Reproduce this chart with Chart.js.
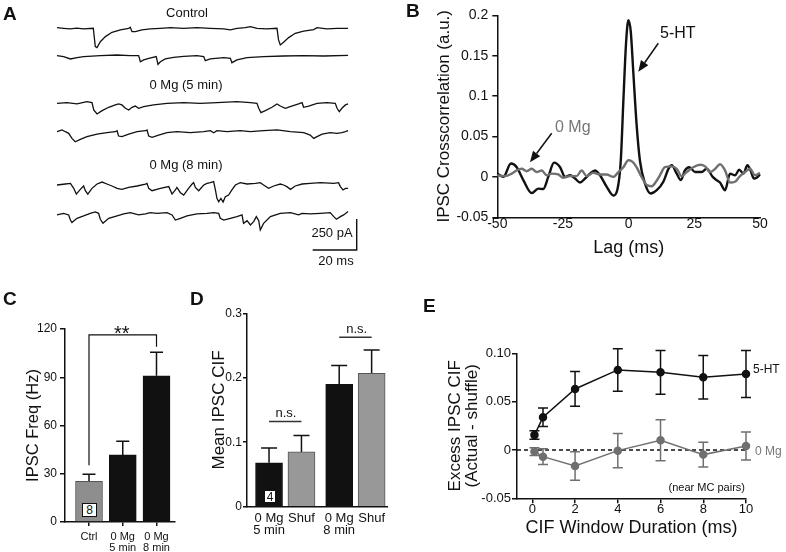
<!DOCTYPE html>
<html>
<head>
<meta charset="utf-8">
<title>IPSC figure</title>
<script src="https://cdn.jsdelivr.net/npm/chart.js@4.4.1/dist/chart.umd.min.js"></script>
<style>
  html, body { margin:0; padding:0; background:#fff; }
  #fig { position:relative; width:786px; height:552px; overflow:hidden; background:#fff;
         font-family:'Liberation Sans', Arial, Helvetica, sans-serif; color:#111; }
  #fig canvas { position:absolute; }
  .t { position:absolute; white-space:nowrap; line-height:1; }
  .nbox { position:absolute; box-sizing:border-box; border:1.2px solid #111; background:#fff;
          font-size:12px; display:flex; align-items:center; justify-content:center; line-height:1; }
</style>
</head>
<body>
<div id="fig">
  <canvas id="cA" width="380" height="270" style="left:0;top:0"></canvas>
  <canvas id="cB" width="406" height="270" style="left:380px;top:0"></canvas>
  <canvas id="cC" width="190" height="272" style="left:0;top:280px"></canvas>
  <canvas id="cD" width="200" height="272" style="left:190px;top:280px"></canvas>
  <canvas id="cE" width="396" height="272" style="left:390px;top:280px"></canvas>
</div>
<script>
// ================= DATA =================
// Panel A: example traces, [time (ms), current (pA) relative to baseline]
const traceControl1 = [[0,5],[3,0],[6,-5],[9,2],[12,-5],[16.5,0],[17.4,-148],[18.2,-156],[19.7,-108],[22,-67],[25,-32],[28.8,-13],[32.6,0],[33.3,8],[34.1,-27],[35.6,-27],[38.6,-13],[42.4,-5],[47,0],[51.5,5],[57.6,0],[63.6,5],[69.7,0],[75.8,-5],[78.8,-13],[81.8,0],[85.6,5],[87.9,13],[90.9,0],[95.4,-5],[100,0],[100.7,-94],[101.5,-134],[103,-113],[105.3,-75],[108.3,-40],[112.1,-22],[116.7,-11],[118.2,5],[122.7,-5],[127.3,0],[132.3,0]];
const traceControl2 = [[0,3],[3,-5],[6.1,-24],[9.1,-13],[12.1,-5],[19.7,3],[27.3,8],[33.3,3],[37.1,3],[37.9,-46],[39.4,-32],[41.7,-19],[45.1,-5],[45.9,-67],[47,-46],[49.2,-24],[53,-11],[57.6,-3],[63.6,3],[66.7,-5],[67.4,-38],[69.7,-24],[75.8,-13],[78.8,-19],[79.5,-54],[81.8,-32],[86.4,-13],[93.9,-5],[103,0],[112.1,3],[121.2,0],[132.3,5]];
const traceMg5a = [[0,0],[4.5,5],[9.1,-5],[13.6,13],[15.9,5],[16.7,-54],[18.2,-86],[20.5,-59],[23.5,-32],[26.5,-13],[28,-5],[29.5,-13],[31.1,-40],[32.6,-54],[34.1,-32],[35.6,-22],[37.1,-40],[39.4,-27],[43.9,-13],[50,0],[57.6,5],[65.1,0],[72.7,5],[81.8,13],[87.9,5],[90.9,0],[91.7,-40],[92.7,-75],[94.7,-59],[97.7,-32],[100,-5],[101.5,-22],[103.8,-40],[106,-27],[109.8,-5],[111.4,5],[112.1,-32],[114.4,-22],[118.2,0],[122.7,5],[126.5,0],[127.3,-40],[128.3,-67],[129.5,-40],[131.1,-13],[132.3,-5]];
const traceMg5b = [[0,8],[2.3,22],[3.8,8],[5.3,-5],[6.8,-46],[8.3,-73],[10.6,-54],[13.6,-32],[18.2,-11],[22.7,0],[26.5,8],[27.3,16],[28,-27],[29.5,-32],[32.6,-11],[36.4,8],[40.2,16],[40.9,22],[41.7,-27],[43.2,-38],[46.2,-19],[50,0],[54.5,8],[60.6,0],[66.7,8],[69.7,16],[71.2,0],[72.7,16],[77.3,8],[83.3,16],[87.9,8],[93.9,16],[100,22],[106.1,8],[112.1,0],[115.1,-19],[116.7,-46],[118.2,-32],[120.5,-11],[124.2,0],[127.3,-5],[129.5,0],[131.1,8],[132.3,16]];
const traceMg8a = [[0,0],[3.8,8],[6.1,13],[7.6,-27],[8.8,-73],[10.6,-35],[12.1,-8],[12.9,-46],[14,-73],[15.9,-27],[18.2,8],[20.5,24],[22.7,8],[25,-8],[27.3,-27],[29.5,-35],[32.6,-19],[36.4,-8],[40.2,8],[40.9,13],[41.7,-27],[43.2,-46],[47,-27],[50.8,-13],[52.3,-73],[53.8,-40],[54.5,-19],[56.1,-62],[57.6,-81],[59.8,-27],[61.4,8],[62.1,19],[62.9,-19],[64.4,-46],[66.7,0],[68.2,13],[69.7,19],[71.2,27],[72,-40],[72.7,-108],[73.5,-135],[74.5,-108],[75.5,-137],[76.5,-94],[78,-81],[79.5,-40],[81.1,0],[83.3,19],[86.4,8],[90.2,13],[92.4,19],[93.9,0],[96.2,-27],[98.5,-8],[101.5,8],[103,0],[104.5,-13],[106.1,-35],[108.3,-8],[111.4,8],[115.1,13],[119.7,19],[125.8,13],[128,19],[128.8,-13],[130,-40],[131.1,-27],[132.3,-27]];
const traceMg8b = [[0,-5],[3,8],[5.3,-5],[6.1,-46],[6.8,-67],[9.1,-32],[12.1,-13],[15.1,8],[17.4,19],[18.9,8],[19.7,-40],[20.9,-73],[23.5,-32],[27.3,-13],[30.3,3],[33.3,13],[37.1,-5],[40.2,3],[42.4,13],[45.5,8],[50,13],[52.3,-5],[53.8,-46],[56.1,-32],[59.1,-13],[63.6,3],[68.2,8],[71.2,13],[73.5,8],[74.2,-32],[75.8,-46],[78.8,-32],[81.8,-19],[84.1,-5],[84.8,-73],[86.4,-51],[87.9,-86],[89.4,-59],[90.6,-19],[91.7,-51],[92.4,-126],[93.9,-73],[97,-19],[101.5,8],[106.1,13],[109.8,-5],[111.4,8],[115.1,3],[119.7,8],[124.2,13],[125.8,-19],[127,-40],[128.8,-19],[130.3,-5],[132.3,22]];
const traceLabels = ['Control', '0 Mg (5 min)', '0 Mg (8 min)'];
const scaleBarPA = 250;
const scaleBarMS = 20;

// Panel B: IPSC crosscorrelation vs lag
const lag5HT   = [-50,-47.7,-44.8,-42.6,-40.1,-36.9,-34.4,-32.5,-30.6,-28.4,-26.1,-24.2,-22.3,-20.4,-18.5,-16.6,-14.7,-12.8,-10.9,-8.4,-5.8,-4.3,-3.0,-2.0,-1.0,-0.1,0.8,1.8,3.0,4.3,6.2,8.4,10.7,13.2,15.2,16.4,18.3,19.9,21.4,23.1,25.3,27.8,29.7,32,33.5,34.8,36.7,38.6,40.5,42.1,43.7,45.2,46.4,47.7,48.7,50];
const xcorr5HT = [0.004,0,0.0165,0.012,-0.004,-0.02,-0.0145,-0.015,0,0.0177,0.012,0,0.002,-0.002,-0.007,-0.002,0.004,0.008,0.002,-0.012,-0.023,-0.016,0.02,0.095,0.165,0.194,0.18,0.128,0.066,0.02,-0.008,-0.0206,-0.0165,-0.006,0.0103,0.0144,0.004,-0.004,0.008,0.012,0.006,0.006,0.010,0,-0.004,-0.007,-0.0165,0.004,0.002,0.009,0.004,0.0144,0.008,-0.002,-0.001,0.003];
const lag0Mg   = [-50,-47.1,-44.5,-42.6,-40.7,-38.8,-36.9,-35,-33.1,-31.2,-29.3,-26.8,-24.9,-22.3,-19.8,-17.9,-16,-13.5,-10.9,-8.4,-5.8,-3.9,-2.0,-0.1,1.5,3,4.9,6.9,8.8,10.4,11.9,13.8,16.4,18.3,20.2,22.1,24.6,27.2,29.1,31,32.9,34.8,36.7,38.6,40.5,42.4,44.3,46.2,48.1,50];
const xcorr0Mg = [0.002,0.001,0.004,0.008,0.010,0.007,0.010,0.006,0.008,0.002,0.004,0.003,-0.001,0.001,0.001,0.008,0.001,0.005,0.003,0.003,0,0.006,0.012,0.0206,0.0186,0.012,0,-0.010,-0.0115,-0.006,0.002,0.012,0.013,0.010,0.001,0.006,0.012,0.015,0.013,0.006,0.010,0.0157,0.008,-0.007,-0.006,0.001,0.006,0.010,0.002,0.005];
const lagTicks = [-50,-25,0,25,50];
const xcorrTicks = [-0.05,0,0.05,0.1,0.15,0.2];
const xcorrTickLabels = ['-0.05','0','0.05','0.1','0.15','0.2'];

// Panel C: IPSC frequency
const freqCategories = ['Ctrl', ['0 Mg','5 min'], ['0 Mg','8 min']];
const freqMean = [25.3, 41.7, 90.9];
const freqSEM  = [4.4, 8.5, 14.6];
const freqTicks = [0,30,60,90,120];
const freqN = 8;
const freqSig = '**';

// Panel D: mean IPSC CIF, actual vs shuffled
const cifConditions = ['5 min','8 min'];
const cifActual     = [0.068, 0.190];
const cifActualSEM  = [0.023, 0.029];
const cifShuffle    = [0.085, 0.207];
const cifShuffleSEM = [0.0255, 0.036];
const cifNsLevel    = [0.132, 0.263];
const cifTicks = [0,0.1,0.2,0.3];
const cifN = 4;

// Panel E: excess IPSC CIF vs window duration
const windowMs = [0.1,0.5,2,4,6,8,10];
const excess5HT    = [0.0155,0.0338,0.0631,0.0828,0.0803,0.0752,0.0786];
const excess5HTSEM = [0.0043,0.0095,0.018,0.022,0.0226,0.0224,0.0242];
const excess0Mg    = [-0.0017,-0.0069,-0.0166,-0.0007,0.010,-0.0048,0.0041];
const excess0MgSEM = [0.004,0.0081,0.0147,0.0178,0.0212,0.0128,0.0145];
const windowTicks = [0,2,4,6,8,10];
const excessTicks = [-0.05,0,0.05,0.10];
const excessTickLabels = ['-0.05','0','0.05','0.10'];

// ================= STYLE / SETUP =================
const INK = '#111';
const GREY_LINE = '#707070';
const GREY_BAR = '#8e8e8e';
const GREY_EDGE = '#555';
const NARROW = "'Liberation Sans Narrow', 'Arial Narrow', 'Liberation Sans', Arial, sans-serif";

Chart.defaults.font.family = "'Liberation Sans', Arial, Helvetica, sans-serif";
Chart.defaults.color = INK;
Chart.defaults.animation = false;
Chart.defaults.events = [];
Chart.defaults.plugins.legend.display = false;
Chart.defaults.plugins.tooltip.enabled = false;

function setTicks(list) { return s => { s.ticks = list.map(v => ({ value: v })); }; }

// error bars drawn from the library's scales
const errorBarPlugin = {
  id: 'errorBars',
  beforeDatasetsDraw(chart) {
    const ctx = chart.ctx, ys = chart.scales.y;
    chart.data.datasets.forEach((ds, di) => {
      if (!ds.errors) return;
      const meta = chart.getDatasetMeta(di);
      ctx.save();
      ctx.strokeStyle = ds.errorColor || INK;
      ctx.lineWidth = ds.errorWidth || 1.5;
      meta.data.forEach((el, i) => {
        const v = meta.controller.getParsed(i).y, e = ds.errors[i];
        const x = el.x, cap = ds.errorCap || 5;
        const yHi = ys.getPixelForValue(v + e);
        const yLo = ys.getPixelForValue(ds.upOnly ? v : v - e);
        ctx.beginPath();
        ctx.moveTo(x, yLo); ctx.lineTo(x, yHi);
        ctx.moveTo(x - cap, yHi); ctx.lineTo(x + cap, yHi);
        if (!ds.upOnly) { ctx.moveTo(x - cap, yLo); ctx.lineTo(x + cap, yLo); }
        ctx.stroke();
      });
      ctx.restore();
    });
  }
};

// ================= PANEL A =================
const aTraces = [traceControl1, traceControl2, traceMg5a, traceMg5b, traceMg8a, traceMg8b];
const A_MS_PER_PX = scaleBarMS / 44, A_PA_PER_PX = scaleBarPA / 31;
const A_T0_PX = 57, A_W = 380, A_H = 270;
const A_ROWS_PX = [28.3, 56, 103.3, 132.7, 185, 214.3];
const A_BAR_CORNER = [356.7, 250];
const scaleBarPlugin = {
  id: 'scaleBar',
  afterDatasetsDraw(chart) {
    const { x: xs, y: ys } = chart.scales, ctx = chart.ctx;
    const tEnd = (A_BAR_CORNER[0] - A_T0_PX) * A_MS_PER_PX;
    const iBot = -A_BAR_CORNER[1] * A_PA_PER_PX;
    const x0 = xs.getPixelForValue(tEnd - scaleBarMS), x1 = xs.getPixelForValue(tEnd);
    const y0 = ys.getPixelForValue(iBot), y1 = ys.getPixelForValue(iBot + scaleBarPA);
    ctx.save(); ctx.strokeStyle = INK; ctx.lineWidth = 1.4;
    ctx.beginPath(); ctx.moveTo(x0, y0); ctx.lineTo(x1, y0); ctx.lineTo(x1, y1); ctx.stroke();
    ctx.restore();
  }
};
new Chart(document.getElementById('cA'), {
  type: 'scatter',
  data: { datasets: aTraces.map((tr, k) => ({
    data: tr.map(p => ({ x: p[0], y: p[1] - A_ROWS_PX[k] * A_PA_PER_PX })),
    showLine: true, pointRadius: 0, borderColor: INK, borderWidth: 1.3, tension: 0, clip: false
  })) },
  options: {
    responsive: false, layout: { padding: 0 },
    scales: {
      x: { type: 'linear', display: false, min: -A_T0_PX * A_MS_PER_PX, max: (A_W - A_T0_PX) * A_MS_PER_PX },
      y: { type: 'linear', display: false, min: -A_H * A_PA_PER_PX, max: 0 }
    }
  },
  plugins: [scaleBarPlugin]
});

// ================= PANEL B =================
function drawArrow(ctx, x0, y0, x1, y1) {
  const ang = Math.atan2(y1 - y0, x1 - x0), L = 11, W = 4.5;
  const bx = x1 - L * Math.cos(ang), by = y1 - L * Math.sin(ang);
  ctx.beginPath(); ctx.moveTo(x0, y0); ctx.lineTo(bx, by); ctx.stroke();
  ctx.beginPath(); ctx.moveTo(x1, y1);
  ctx.lineTo(bx + W * Math.sin(ang), by - W * Math.cos(ang));
  ctx.lineTo(bx - W * Math.sin(ang), by + W * Math.cos(ang));
  ctx.closePath(); ctx.fill();
}
const arrowPlugin = {
  id: 'arrows',
  afterDatasetsDraw(chart) {
    const ctx = chart.ctx;
    ctx.save(); ctx.strokeStyle = INK; ctx.fillStyle = INK; ctx.lineWidth = 1.5;
    drawArrow(ctx, 278.3, 43.3, 258.3, 71.7);
    drawArrow(ctx, 171.7, 133.3, 150, 162.3);
    ctx.restore();
  }
};
new Chart(document.getElementById('cB'), {
  type: 'line',
  data: { datasets: [
    { data: lag0Mg.map((x, i) => ({ x, y: xcorr0Mg[i] })), borderColor: GREY_LINE, borderWidth: 2.4,
      pointRadius: 0, cubicInterpolationMode: 'monotone', clip: false },
    { data: lag5HT.map((x, i) => ({ x, y: xcorr5HT[i] })), borderColor: INK, borderWidth: 2.4,
      pointRadius: 0, cubicInterpolationMode: 'monotone', clip: false }
  ] },
  options: {
    responsive: false,
    layout: { padding: { left: 0, right: 26, top: 15.3, bottom: 0 } },
    scales: {
      x: { type: 'linear', min: -50, max: 50, afterBuildTicks: setTicks(lagTicks),
        ticks: { font: { size: 14, lineHeight: 1 }, padding: 0, maxRotation: 0, autoSkip: false },
        grid: { drawOnChartArea: false, drawTicks: false, color: INK },
        border: { display: true, color: INK, width: 1.5 },
        title: { display: true, text: 'Lag (ms)', font: { size: 18, lineHeight: 1 }, padding: { top: 0, bottom: 13 } },
        afterFit: s => { s.height = 52.7; } },
      y: { type: 'linear', min: -0.05, max: 0.2, afterBuildTicks: setTicks(xcorrTicks),
        ticks: { font: { size: 14 }, padding: 4, callback: v => xcorrTickLabels[xcorrTicks.indexOf(v)] },
        grid: { drawOnChartArea: false, tickLength: 5, color: INK, lineWidth: 1.5 },
        border: { display: true, color: INK, width: 1.5 },
        title: { display: true, text: 'IPSC Crosscorrelation (a.u.)', font: { size: 17, lineHeight: 1 }, padding: { top: 55.5, bottom: 0 } },
        afterFit: s => { s.width = 117.3; } }
    }
  },
  plugins: [arrowPlugin]
});

// ================= PANEL C =================
const bracketPlugin = {
  id: 'bracket',
  afterDatasetsDraw(chart) {
    const { x: xs, y: ys } = chart.scales, ctx = chart.ctx;
    const xL = xs.getPixelForValue(0), xR = xs.getPixelForValue(freqCategories.length - 1);
    const yTop = ys.getPixelForValue(116.3);
    ctx.save(); ctx.strokeStyle = INK; ctx.lineWidth = 1.2;
    ctx.beginPath();
    ctx.moveTo(xL, ys.getPixelForValue(35.3)); ctx.lineTo(xL, yTop);
    ctx.lineTo(xR, yTop); ctx.lineTo(xR, ys.getPixelForValue(109));
    ctx.stroke(); ctx.restore();
  }
};
new Chart(document.getElementById('cC'), {
  type: 'bar',
  data: { datasets: [{
    data: freqMean.map((v, i) => ({ x: i, y: v })),
    backgroundColor: [GREY_BAR, INK, INK], borderColor: [GREY_EDGE, INK, INK], borderWidth: 1,
    barThickness: 27, errors: freqSEM, upOnly: true, errorCap: 6.5, errorWidth: 1.5
  }] },
  options: {
    responsive: false,
    layout: { padding: { left: 0, right: 15, top: 49, bottom: 0 } },
    scales: {
      x: { type: 'linear', offset: false, min: -0.711, max: 2.548,
        afterBuildTicks: setTicks(freqCategories.map((c, i) => i)),
        ticks: { callback: v => freqCategories[v], font: { family: NARROW, size: 11, lineHeight: 1 }, padding: 5, maxRotation: 0, autoSkip: false },
        grid: { offset: false, drawOnChartArea: false, tickLength: 4, color: INK, lineWidth: 1.5 },
        border: { display: true, color: INK, width: 1.5 },
        afterFit: s => { s.height = 30; } },
      y: { type: 'linear', min: 0, max: 120, afterBuildTicks: setTicks(freqTicks),
        ticks: { font: { size: 12 }, padding: 3 },
        grid: { drawOnChartArea: false, tickLength: 5, color: INK, lineWidth: 1.5 },
        border: { display: true, color: INK, width: 1.5 },
        title: { display: true, text: 'IPSC Freq (Hz)', font: { size: 16.5, lineHeight: 1 }, padding: { top: 24.75, bottom: 0 } },
        afterFit: s => { s.width = 65; } }
    }
  },
  plugins: [errorBarPlugin, bracketPlugin]
});

// ================= PANEL D =================
const D_BAR_OFF = 0.231;
const cifTickPos = [];
const cifTickLabels = [];
cifConditions.forEach((c, g) => {
  cifTickPos.push(g - D_BAR_OFF, g + D_BAR_OFF);
  cifTickLabels.push(['0 Mg', c], 'Shuf');
});
const nsPlugin = {
  id: 'nsLines',
  afterDatasetsDraw(chart) {
    const { x: xs, y: ys } = chart.scales, ctx = chart.ctx;
    ctx.save(); ctx.strokeStyle = '#333'; ctx.lineWidth = 1.5;
    cifNsLevel.forEach((lv, g) => {
      const y = ys.getPixelForValue(lv);
      ctx.beginPath();
      ctx.moveTo(xs.getPixelForValue(g - D_BAR_OFF), y);
      ctx.lineTo(xs.getPixelForValue(g + D_BAR_OFF), y);
      ctx.stroke();
    });
    ctx.restore();
  }
};
new Chart(document.getElementById('cD'), {
  type: 'bar',
  data: { datasets: [
    { data: cifActual.map((v, g) => ({ x: g - D_BAR_OFF, y: v })), backgroundColor: INK, borderColor: INK,
      borderWidth: 1, barThickness: 27, grouped: false, errors: cifActualSEM, upOnly: true, errorCap: 8 },
    { data: cifShuffle.map((v, g) => ({ x: g + D_BAR_OFF, y: v })), backgroundColor: '#989898', borderColor: GREY_EDGE,
      borderWidth: 1, barThickness: 27, grouped: false, errors: cifShuffleSEM, upOnly: true, errorCap: 8 }
  ] },
  options: {
    responsive: false,
    layout: { padding: { left: 0, right: 0, top: 33.3, bottom: 0 } },
    scales: {
      x: { type: 'linear', offset: false, min: -0.545, max: 1.455,
        afterBuildTicks: setTicks(cifTickPos),
        ticks: { callback: v => cifTickLabels[cifTickPos.indexOf(v)], font: { family: NARROW, size: 13, lineHeight: 0.96 }, padding: 5, maxRotation: 0, autoSkip: false },
        grid: { offset: false, drawOnChartArea: false, drawTicks: false, color: INK },
        border: { display: true, color: INK, width: 1.5 },
        afterFit: s => { s.height = 45.3; } },
      y: { type: 'linear', min: 0, max: 0.3, afterBuildTicks: setTicks(cifTicks),
        ticks: { font: { size: 12 }, padding: 1 },
        grid: { drawOnChartArea: false, tickLength: 4, color: INK, lineWidth: 1.5 },
        border: { display: true, color: INK, width: 1.5 },
        title: { display: true, text: 'Mean IPSC CIF', font: { size: 17, lineHeight: 1 }, padding: { top: 20.5, bottom: 0 } },
        afterFit: s => { s.width = 57; } }
    }
  },
  plugins: [errorBarPlugin, nsPlugin]
});

// ================= PANEL E =================
const zeroLinePlugin = {
  id: 'zeroLine',
  beforeDatasetsDraw(chart) {
    const { chartArea: a, ctx } = chart, y = chart.scales.y.getPixelForValue(0);
    ctx.save(); ctx.strokeStyle = INK; ctx.lineWidth = 1.5; ctx.setLineDash([4, 3]);
    ctx.beginPath(); ctx.moveTo(a.left, y); ctx.lineTo(a.right, y); ctx.stroke();
    ctx.restore();
  }
};
new Chart(document.getElementById('cE'), {
  type: 'line',
  data: { datasets: [
    { label: '5-HT', data: windowMs.map((x, i) => ({ x, y: excess5HT[i] })), borderColor: INK, backgroundColor: INK,
      pointBackgroundColor: INK, pointBorderColor: INK, borderWidth: 1.5, pointRadius: 3.5,
      errors: excess5HTSEM, errorCap: 5, errorColor: INK, clip: false },
    { label: '0 Mg', data: windowMs.map((x, i) => ({ x, y: excess0Mg[i] })), borderColor: GREY_LINE, backgroundColor: GREY_LINE,
      pointBackgroundColor: GREY_LINE, pointBorderColor: GREY_LINE, borderWidth: 1.5, pointRadius: 3.5,
      errors: excess0MgSEM, errorCap: 5, errorColor: GREY_LINE, clip: false }
  ] },
  options: {
    responsive: false,
    layout: { padding: { left: 0, right: 40, top: 73.3, bottom: 0 } },
    scales: {
      x: { type: 'linear', min: -0.717, max: 10, afterBuildTicks: setTicks(windowTicks),
        ticks: { font: { size: 13, lineHeight: 1 }, padding: 0, maxRotation: 0, autoSkip: false },
        grid: { drawOnChartArea: false, tickLength: 5, color: INK, lineWidth: 1.5 },
        border: { display: true, color: INK, width: 1.5 },
        title: { display: true, text: 'CIF Window Duration (ms)', font: { size: 18, lineHeight: 1 }, padding: { top: 0, bottom: 15 } },
        afterFit: s => { s.height = 53.7; } },
      y: { type: 'linear', min: -0.05, max: 0.10, afterBuildTicks: setTicks(excessTicks),
        ticks: { font: { size: 13 }, padding: 1, callback: v => excessTickLabels[excessTicks.indexOf(v)] },
        grid: { drawOnChartArea: false, tickLength: 5, color: INK, lineWidth: 1.5 },
        border: { display: true, color: INK, width: 1.5 },
        title: { display: true, text: ['Excess IPSC CIF', '(Actual - shuffle)'], font: { size: 17, lineHeight: 1 }, padding: { top: 56.5, bottom: 0 } },
        afterFit: s => { s.width = 127; } }
    }
  },
  plugins: [zeroLinePlugin, errorBarPlugin]
});

// ================= TEXT OVERLAYS =================
const fig = document.getElementById('fig');
function addText(str, x, baseline, size, o = {}) {
  const d = document.createElement('div');
  d.className = 't'; d.textContent = str;
  d.style.fontSize = size + 'px';
  if (o.bold) d.style.fontWeight = 'bold';
  if (o.color) d.style.color = o.color;
  if (o.family) d.style.fontFamily = o.family;
  d.style.top = (baseline - 0.8465 * size) + 'px';
  d.style.left = x + 'px';
  if (o.align === 'center') d.style.transform = 'translateX(-50%)';
  if (o.align === 'right') d.style.transform = 'translateX(-100%)';
  fig.appendChild(d);
}
function addBox(str, l, t, w, h) {
  const d = document.createElement('div');
  d.className = 'nbox'; d.textContent = str;
  Object.assign(d.style, { left: l + 'px', top: t + 'px', width: w + 'px', height: h + 'px' });
  fig.appendChild(d);
}
addText('A', 3, 20, 19, { bold: true });
addText('B', 406, 17.5, 19, { bold: true });
addText('C', 3, 305, 19, { bold: true });
addText('D', 190, 305, 19, { bold: true });
addText('E', 423, 312, 19, { bold: true });
addText(traceLabels[0], 187, 16.7, 13, { align: 'center' });
addText(traceLabels[1], 186, 89.3, 13, { align: 'center' });
addText(traceLabels[2], 186, 169, 13, { align: 'center' });
addText(scaleBarPA + ' pA', 332, 237, 13, { align: 'center' });
addText(scaleBarMS + ' ms', 336, 265, 13, { align: 'center' });
addText('5-HT', 660, 38.2, 16);
addText('0 Mg', 555, 132.4, 16, { color: '#777' });
addText(freqSig, 121.7, 340, 20, { align: 'center' });
addText('n.s.', 286, 417.3, 13, { align: 'center' });
addText('n.s.', 356.7, 333.3, 13, { align: 'center' });
addText('5-HT', 753, 373.3, 12, { family: NARROW });
addText('0 Mg', 755, 455.3, 12, { family: NARROW, color: '#777' });
addText('(near MC pairs)', 745, 491, 11, { align: 'right' });
addBox(String(freqN), 82, 503, 15, 14);
addBox(String(cifN), 264, 490, 12, 13);
</script>
</body>
</html>
